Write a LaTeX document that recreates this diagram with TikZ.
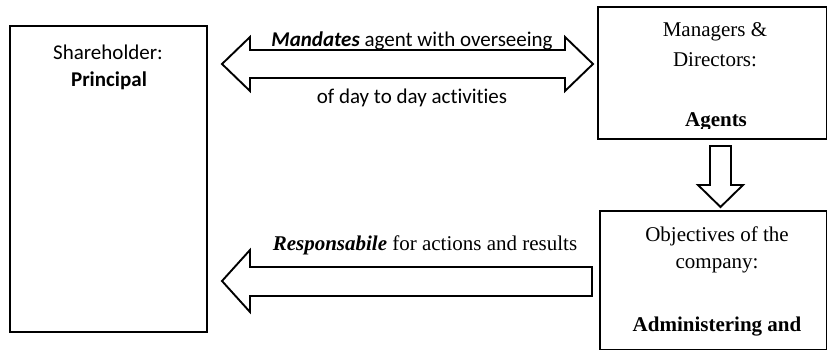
\documentclass[tikz,border=0pt]{standalone}
\usepackage{fontspec}
\setmainfont{Liberation Serif}
\newfontfamily\calibrifont[Ligatures=NoCommon]{Carlito}
\usetikzlibrary{positioning}

\tikzset{
  box/.style={draw, line width=1.9pt, inner sep=0pt, anchor=north west},
  blockarrow/.style={draw, line width=1.9pt, line join=miter},
  sertext/.style={font=\fontsize{21}{30}\selectfont, inner sep=0pt, anchor=base},
  santext/.style={font=\calibrifont\fontsize{21}{26}\selectfont, inner sep=0pt, anchor=base},
}

\begin{document}
\begin{tikzpicture}[x=1pt,y=-1pt]
      \useasboundingbox (0,0) rectangle (827,350);
      %% Boxes
      \node[box, minimum width=197pt, minimum height=306pt] (principal) at (9,25) {};
      \node[box, minimum width=229pt, minimum height=132pt] (agents) at (597,6) {};
      \node[box, minimum width=227pt, minimum height=139pt] (objectives) at (599,210) {};
      %% Box texts
      \node[santext] (shareholder) at (108,60) {Shareholder:};
      \node[santext] (principaltxt) at (109,87) {\bfseries Principal};
      \node[sertext] (managers) at (715,37) {Managers \&};
      \node[sertext] (directors) at (715,67) {Directors:};
      \begin{scope}
        \clip (agents.north west) rectangle (826,129);
        \node[sertext] (agentstxt) at (716,127) {\bfseries Agents};
      \end{scope}
      \node[sertext] (objtxt) at (717,241) {Objectives of the};
      \node[sertext] (company) at (717,268) {company:};
      \node[sertext] (admin) at (717,331) {\bfseries Administering and};
      %% Horizontal arrows
      \coordinate (dl) at (222,64);
      \coordinate (dr) at (593,64);
      \draw[blockarrow] (dl) -- ++(28,-27) -- ++(0,13) -- ++(315,0) -- ++(0,-13) -- (dr)
        -- ++(-28,27) -- ++(0,-13) -- ++(-315,0) -- ++(0,13) -- cycle;
      \node[santext] (mandates) at (412,47) {\textbf{\textit{Mandates}} agent with overseeing};
      \node[santext] (daytoday) at (412,104) {of day to day activities};
      \coordinate (rtip) at (222,281);
      \coordinate (rtail) at (592,281);
      \draw[blockarrow] (rtip) -- ++(28,-31) -- ++(0,17) -- (rtail |- 0,267) -- (rtail |- 0,296)
        -- ++(-342,0) -- ++(0,16) -- cycle;
      \node[sertext] (responsible) at (425,250) {\textbf{\textit{Responsabile}} for actions and results};
      %% Vertical arrow
      \coordinate (dtail) at (720.5,146);
      \coordinate (dtip) at (720.5,207);
      \draw[blockarrow] (dtail) ++(-10.5,0) -- ++(21,0) -- ++(0,39) -- ++(12,0) -- (dtip)
        -- ++(-22.5,-22) -- ++(12,0) -- cycle;
    \end{tikzpicture}
\end{document}
